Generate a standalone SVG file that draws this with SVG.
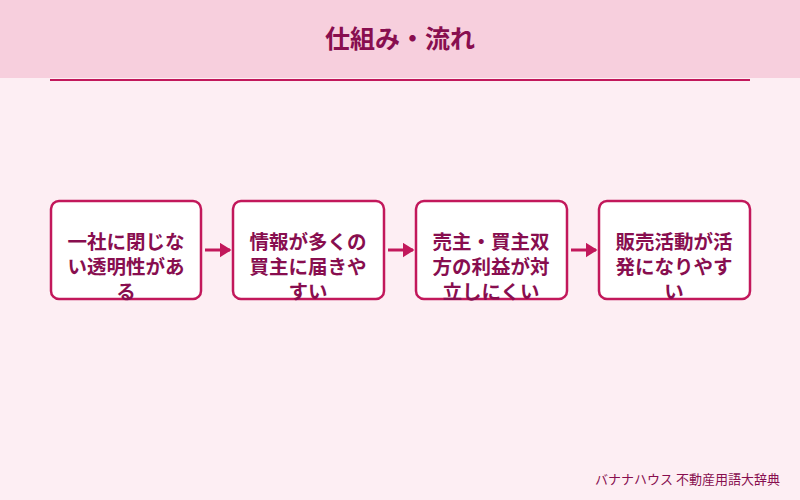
<svg xmlns="http://www.w3.org/2000/svg" width="800" height="500" viewBox="0 0 800 500">
<defs>
<style>
.box{fill:#fff;stroke:#c2185b;stroke-width:2.5}
.t{font-family:"Noto Sans CJK JP",sans-serif;font-size:19.5px;font-weight:bold;fill:#880e4f;text-anchor:middle}
.c{stroke:#c2185b;stroke-width:3;fill:none}
</style>
<marker id="a" markerWidth="4" markerHeight="5" refX="3.5" refY="2.5" orient="auto" markerUnits="strokeWidth"><path d="M0,0L4,2.5L0,5z" fill="#c2185b"/></marker>
</defs>
<rect width="800" height="500" fill="#fdeef3"/>
<rect width="800" height="78" fill="#f7cfdd"/>
<text x="400" y="48" font-family="Noto Sans CJK JP,sans-serif" font-size="25" font-weight="bold" fill="#880e4f" text-anchor="middle">仕組み・流れ</text>
<line x1="50" y1="80" x2="750" y2="80" stroke="#c2185b" stroke-width="2"/>
<g id="n1"><rect class="box" x="51" y="201" width="150" height="98" rx="8"/><text class="t" x="126" y="249">一社に閉じな</text><text class="t" x="126" y="274">い透明性があ</text><text class="t" x="126" y="299">る</text></g>
<g id="n2"><rect class="box" x="233" y="201" width="151" height="98" rx="8"/><text class="t" x="308" y="249">情報が多くの</text><text class="t" x="308" y="274">買主に届きや</text><text class="t" x="308" y="299">すい</text></g>
<g id="n3"><rect class="box" x="416" y="201" width="151" height="98" rx="8"/><text class="t" x="491" y="249">売主・買主双</text><text class="t" x="491" y="274">方の利益が対</text><text class="t" x="491" y="299">立しにくい</text></g>
<g id="n4"><rect class="box" x="599" y="201" width="151" height="98" rx="8"/><text class="t" x="674" y="249">販売活動が活</text><text class="t" x="674" y="274">発になりやす</text><text class="t" x="674" y="299">い</text></g>
<g id="connectors">
<line class="c" x1="205" y1="250" x2="230" y2="250" marker-end="url(#a)"/>
<line class="c" x1="388" y1="250" x2="413" y2="250" marker-end="url(#a)"/>
<line class="c" x1="571" y1="250" x2="596" y2="250" marker-end="url(#a)"/>
</g>
<text x="780" y="484" font-family="Noto Sans CJK JP,sans-serif" font-size="13" fill="#880e4f" text-anchor="end">バナナハウス 不動産用語大辞典</text>
</svg>
